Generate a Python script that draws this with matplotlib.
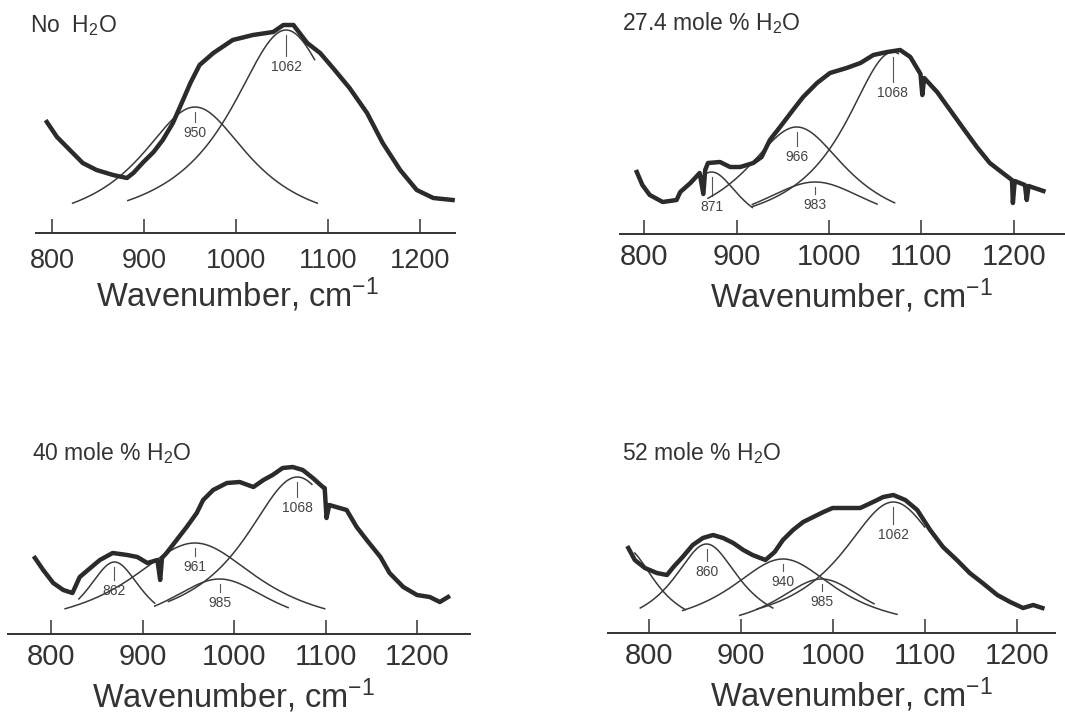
import numpy as np
import matplotlib
matplotlib.use('Agg')
import matplotlib.pyplot as plt

plt.rcParams['font.family'] = ['Liberation Sans', 'DejaVu Sans']
plt.rcParams['mathtext.default'] = 'regular'

INK = '#333333'

# --- spectra (wavenumber cm-1, intensity arb. units) ---
wn_dry = [794, 805, 819, 833, 848, 866, 881, 888, 899, 910, 920, 931, 942, 950, 960,
          975, 996, 1018, 1040, 1051, 1062, 1077, 1091, 1105, 1123, 1142, 1159, 1178,
          1196, 1214, 1235]
int_dry = [111, 96, 83, 70, 63, 58, 55, 60, 71, 81, 93, 110, 133, 150, 168,
           180, 193, 198, 201, 208, 208, 190, 180, 165, 145, 120, 90, 63,
           43, 35, 33]

wn_27 = [792, 798, 806, 820, 835, 839, 850, 860, 864, 866, 869, 882, 893, 904, 918,
         927, 936, 947, 961, 972, 987, 1001, 1019, 1034, 1048, 1063, 1077, 1088, 1099,
         1101, 1103, 1117, 1131, 1145, 1160, 1174, 1188, 1198, 1199, 1201, 1212, 1214,
         1216, 1232]
int_27 = [62, 49, 39, 32, 34, 42, 51, 61, 40, 64, 71, 72, 67, 67, 71,
          77, 94, 107, 124, 137, 151, 161, 166, 171, 179, 182, 184, 177, 160,
          139, 156, 142, 124, 106, 87, 71, 61, 54, 31, 53, 49, 34,
          48, 43]

wn_40 = [782, 791, 802, 813, 823, 831, 840, 853, 867, 883, 894, 905, 916, 919, 921,
         926, 937, 948, 959, 966, 977, 992, 1006, 1021, 1032, 1042, 1053, 1064, 1075,
         1086, 1097, 1099, 1101, 1104, 1123, 1134, 1145, 1160, 1170, 1185, 1200, 1214,
         1225, 1234]
int_40 = [76, 64, 51, 44, 41, 57, 64, 74, 81, 79, 77, 71, 74, 54, 76,
          81, 94, 107, 121, 134, 144, 151, 152, 147, 154, 159, 166, 167, 164,
          156, 147, 146, 116, 129, 124, 107, 94, 77, 61, 47, 39, 37,
          32, 37]

wn_52 = [778, 785, 796, 809, 820, 827, 837, 848, 859, 870, 881, 892, 903, 913, 927,
         937, 946, 957, 968, 979, 990, 1000, 1016, 1030, 1044, 1055, 1066, 1079, 1092,
         1106, 1120, 1135, 1149, 1163, 1179, 1193, 1207, 1218, 1228]
int_52 = [85, 73, 65, 60, 58, 66, 76, 88, 95, 98, 95, 90, 83, 78, 73,
          81, 93, 103, 111, 116, 121, 125, 125, 125, 131, 136, 138, 133, 123,
          103, 86, 73, 60, 50, 38, 31, 25, 28, 25]

# --- fitted bands: centre, height, half width, drawn range, label ---
dry_centre = [955, 1054]
dry_height = [126, 203]
dry_hwhm = [74, 75]
dry_from = [822, 882]
dry_to = [1088, 1085]
dry_label = ['950', '1062']

b27_centre = [873, 965, 985, 1069]
b27_height = [62, 107, 52, 182]
b27_hwhm = [38, 68, 78, 64]
b27_from = [860, 869, 917, 917]
b27_to = [917, 1071, 1052, 1075]
b27_label = ['871', '966', '983', '1068']

b40_centre = [869, 957, 984, 1069]
b40_height = [72, 91, 55, 157]
b40_hwhm = [38, 88, 72, 72]
b40_from = [830, 815, 913, 928]
b40_to = [913, 1099, 1059, 1085]
b40_label = ['862', '961', '985', '1068']

b52_centre = [775, 863, 946, 988, 1066]
b52_height = [85, 89, 74, 54, 131]
b52_hwhm = [40, 45, 72, 62, 70]
b52_from = [785, 791, 837, 899, 918]
b52_to = [840, 935, 1070, 1045, 1100]
b52_label = ['', '860', '940', '985', '1062']

titles = ['No  H$_2$O', '27.4 mole % H$_2$O', '40 mole % H$_2$O', '52 mole % H$_2$O']
ticks = [800, 900, 1000, 1100, 1200]

# label drop below each band peak (layout only)
drops = [[26, 37], [35, 30, 23, 41], [29, 24, 24, 31], [0, 28, 23, 23, 33]]


def band(x, c, h, w):
    return h / (1 + ((x - c) / w) ** 2)


W, H = 1065, 715
fig = plt.figure(figsize=(W / 100, H / 100), dpi=100)
fig.patch.set_facecolor('white')

# pixel layout: left, right, axis-line y, xlim, tick size, tick pad, xlabel x, title pos
layout = [
    (36, 455, 233, (782.2, 1237.6), 19.5, 10.5, 0.480, (30, 32)),
    (620, 1065, 234, (773.8, 1255.4), 21, 6.3, 0.519, (622, 30)),
    (8, 470, 634, (752.5, 1258.0), 21, 6.3, 0.487, (32, 460)),
    (608, 1055, 633, (755.9, 1241.7), 21, 6.3, 0.544, (622, 460)),
]
spectra = [(wn_dry, int_dry), (wn_27, int_27), (wn_40, int_40), (wn_52, int_52)]
bands = [
    (dry_centre, dry_height, dry_hwhm, dry_from, dry_to, dry_label),
    (b27_centre, b27_height, b27_hwhm, b27_from, b27_to, b27_label),
    (b40_centre, b40_height, b40_hwhm, b40_from, b40_to, b40_label),
    (b52_centre, b52_height, b52_hwhm, b52_from, b52_to, b52_label),
]

YTOP = 215
for k in range(4):
    left, right, base, xl, tsize, tpad, xlab, tpos = layout[k]
    ax = fig.add_axes([left / W, 1 - base / H, (right - left) / W, YTOP / H])
    ax.set_xlim(*xl)
    ax.set_ylim(0, YTOP)
    ax.patch.set_alpha(0)

    cs, hs, ws, los, his, labs = bands[k]
    for c, h, w, lo, hi, lab, d in zip(cs, hs, ws, los, his, labs, drops[k]):
        xx = np.linspace(lo, hi, 300)
        ax.plot(xx, band(xx, c, h, w), color='#3a3a3a', lw=1.1, zorder=2)
        if lab:
            ax.plot([c, c], [h - 5, h - d + 11], color='#555555', lw=0.8, zorder=2)
            ax.text(c, h - d, lab, ha='center', va='center', fontsize=10, color='#444444')

    x, y = spectra[k]
    ax.plot(x, y, color='#2b2b2b', lw=3.2, zorder=3, solid_joinstyle='round')

    for s in ['top', 'left', 'right']:
        ax.spines[s].set_visible(False)
    ax.spines['bottom'].set_linewidth(1.4)
    ax.spines['bottom'].set_color(INK)
    ax.set_yticks([])
    ax.set_xticks(ticks)
    ax.tick_params(axis='x', direction='in', length=10, width=1.1, colors=INK,
                   labelsize=tsize, pad=tpad)
    ax.set_xlabel('Wavenumber, cm$^{-1}$', fontsize=23.5, color=INK)
    ax.xaxis.set_label_coords(xlab, -74 / YTOP)
    ax.xaxis.label.set_verticalalignment('baseline')

    fig.text(tpos[0] / W, 1 - tpos[1] / H, titles[k], fontsize=16.5, color=INK,
             ha='left', va='baseline')

fig.savefig('out.png', dpi=100, facecolor='white')
